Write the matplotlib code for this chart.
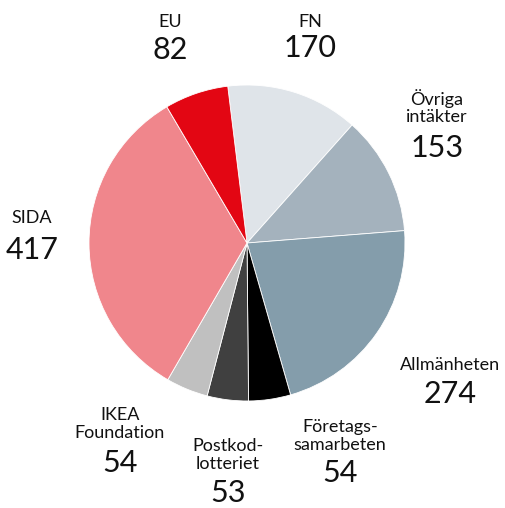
import matplotlib.pyplot as plt

plt.rcParams['font.family'] = ['Lato', 'DejaVu Sans']

# data
names = ['FN', 'Övriga\nintäkter', 'Allmänheten', 'Företags-\nsamarbeten',
         'Postkod-\nlotteriet', 'IKEA\nFoundation', 'SIDA', 'EU']
values = [170, 153, 274, 54, 53, 54, 417, 82]
colors = ['#dfe4e9', '#a4b2bd', '#849dab', '#000000',
          '#404040', '#c0c0c0', '#f0868c', '#e30613']

# label placement in pixels (name centre, number centre), y from top
name_pos = [(310, 22), (437, 107), (450, 365), (340, 436),
            (228, 455), (120, 424), (32, 218), (170, 22)]
num_pos = [(310, 48), (437, 148), (450, 394), (340, 473),
           (228, 493), (120, 463), (32, 250), (170, 50)]

W, H = 505, 508
fig = plt.figure(figsize=(W / 100, H / 100), dpi=100)
ax = fig.add_axes([0, 0, 1, 1])
ax.set_xlim(0, W)
ax.set_ylim(0, H)
ax.set_aspect('equal')
ax.axis('off')

ax.pie(values, colors=colors, startangle=97, counterclock=False,
       center=(247, H - 243), radius=158, frame=True,
       wedgeprops=dict(edgecolor='white', linewidth=0.6))
ax.set_xlim(0, W)
ax.set_ylim(0, H)
ax.axis('off')

for name, v, (nx, ny), (vx, vy) in zip(names, values, name_pos, num_pos):
    ax.text(nx, H - ny, name, ha='center', va='center', fontsize=13,
            linespacing=1.1, color='#111111')
    ax.text(vx, H - vy, str(v), ha='center', va='center', fontsize=22,
            color='#111111')

fig.savefig('out.png', dpi=100)
